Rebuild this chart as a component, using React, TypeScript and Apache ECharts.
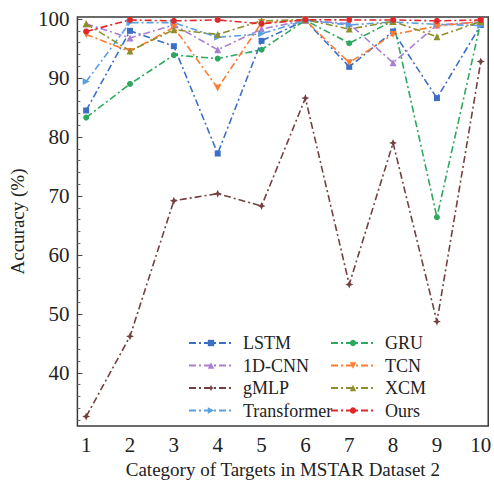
import React, { useEffect, useRef } from "react";
import * as echarts from "echarts";

const categories = [1, 2, 3, 4, 5, 6, 7, 8, 9, 10];
const yTickLabels = [40, 50, 60, 70, 80, 90, 100];
const yMinorTicks = [32, 34, 36, 38, 42, 44, 46, 48, 52, 54, 56, 58, 62, 64, 66, 68, 72, 74, 76, 78, 82, 84, 86, 88, 92, 94, 96, 98];

const lstm = [84.5, 98.0, 95.4, 77.2, 96.3, 99.8, 91.9, 97.9, 86.6, 99.0];
const cnn1d = [99.2, 96.8, 99.0, 94.8, 98.3, 99.8, 99.2, 92.6, 99.0, 99.5];
const gmlp = [32.6, 46.2, 69.2, 70.4, 68.3, 86.6, 55.0, 79.0, 48.7, 92.8];
const transformer = [89.4, 99.4, 99.4, 96.9, 97.5, 99.8, 99.0, 99.5, 99.1, 98.9];
const gru = [83.3, 89.0, 93.9, 93.3, 94.8, 99.8, 95.9, 99.7, 66.4, 99.5];
const tcn = [97.4, 94.5, 98.6, 88.3, 99.4, 99.8, 92.6, 97.4, 98.8, 99.6];
const xcm = [99.2, 94.6, 98.2, 97.4, 99.7, 99.9, 98.3, 99.6, 97.0, 99.6];
const ours = [97.9, 99.85, 99.7, 99.85, 99.2, 99.9, 99.85, 99.85, 99.7, 99.85];

const STAR = "path://M0,-1 L0.3,-0.3 L1,0 L0.3,0.3 L0,1 L-0.3,0.3 L-1,0 L-0.3,-0.3 Z";
const RIGHT_TRI = "path://M-1,-1 L1,0 L-1,1 Z";
const DOWN_TRI = "path://M-1,-1 L1,-1 L0,1 Z";

const FONT = "Liberation Serif";

export default function App() {
  const ref = useRef<HTMLDivElement>(null);
  useEffect(() => {
    if (!ref.current) return;
    const chart = echarts.init(ref.current, null, { renderer: "svg" });
    const mk = (name: string, data: number[], color: string, symbol: string, size = 7) => ({
      name,
      type: "line",
      data: data.map((v, i) => [categories[i], v]),
      symbol,
      symbolSize: size,
      itemStyle: { color },
      lineStyle: { color, width: 1.6, type: [7, 3, 2, 3] },
      emphasis: { disabled: true },
    });
    const legendCommon = {
      orient: "vertical",
      padding: 0,
      itemWidth: 44,
      itemHeight: 8,
      itemGap: 4.5,
      textStyle: { fontFamily: FONT, fontSize: 18, color: "#222", lineHeight: 18, padding: [0, 0, 0, 5] },
    };
    chart.setOption({
      animation: false,
      backgroundColor: "#fff",
      grid: { left: 62, right: 4, top: 17, bottom: 59, show: true, borderColor: "#3a3a3a", borderWidth: 1.5, backgroundColor: "transparent" },
      legend: [
        { ...legendCommon, left: 188, top: 334, data: ["LSTM", "1D-CNN", "gMLP", "Transformer"] },
        { ...legendCommon, left: 330, top: 334, data: ["GRU", "TCN", "XCM", "Ours"] },
      ],
      xAxis: {
        type: "value",
        min: 0.8,
        max: 10.17,
        axisLine: { show: false },
        axisTick: { show: false },
        splitLine: { show: false },
        axisLabel: { customValues: categories, fontFamily: FONT, fontSize: 21, color: "#222", margin: 8 },
        name: "Category of Targets in MSTAR Dataset 2",
        nameLocation: "middle",
        nameGap: 30,
        nameTextStyle: { fontFamily: FONT, fontSize: 19, color: "#222" },
      },
      yAxis: [
        {
          type: "value",
          min: 31,
          max: 100.35,
          axisLine: { show: false },
          splitLine: { show: false },
          axisTick: { show: true, inside: true, length: 5, customValues: yTickLabels, lineStyle: { color: "#444" } },
          axisLabel: { customValues: yTickLabels, fontFamily: FONT, fontSize: 21, color: "#222", margin: 8 },
          name: "Accuracy (%)",
          nameLocation: "middle",
          nameGap: 44,
          nameTextStyle: { fontFamily: FONT, fontSize: 19, color: "#222" },
        },
        {
          type: "value",
          position: "left",
          min: 31,
          max: 100.35,
          axisLine: { show: false },
          splitLine: { show: false },
          axisTick: { show: true, inside: true, length: 3, customValues: yMinorTicks, lineStyle: { color: "#666" } },
          axisLabel: { show: false },
        },
      ],
      series: [
        mk("LSTM", lstm, "#3b6fc6", "rect", 6),
        mk("1D-CNN", cnn1d, "#a77fd3", "triangle", 7),
        mk("gMLP", gmlp, "#74403f", STAR, 8),
        mk("Transformer", transformer, "#5a9fe0", RIGHT_TRI, 7),
        mk("GRU", gru, "#2ca85f", "circle", 6),
        mk("TCN", tcn, "#ff7b30", DOWN_TRI, 7),
        mk("XCM", xcm, "#8e8e2c", "triangle", 7),
        mk("Ours", ours, "#e0282a", "circle", 6),
      ],
    });
    return () => chart.dispose();
  }, []);
  return <div ref={ref} style={{ position: "absolute", left: 0, top: 0, width: 494, height: 485 }} />;
}
